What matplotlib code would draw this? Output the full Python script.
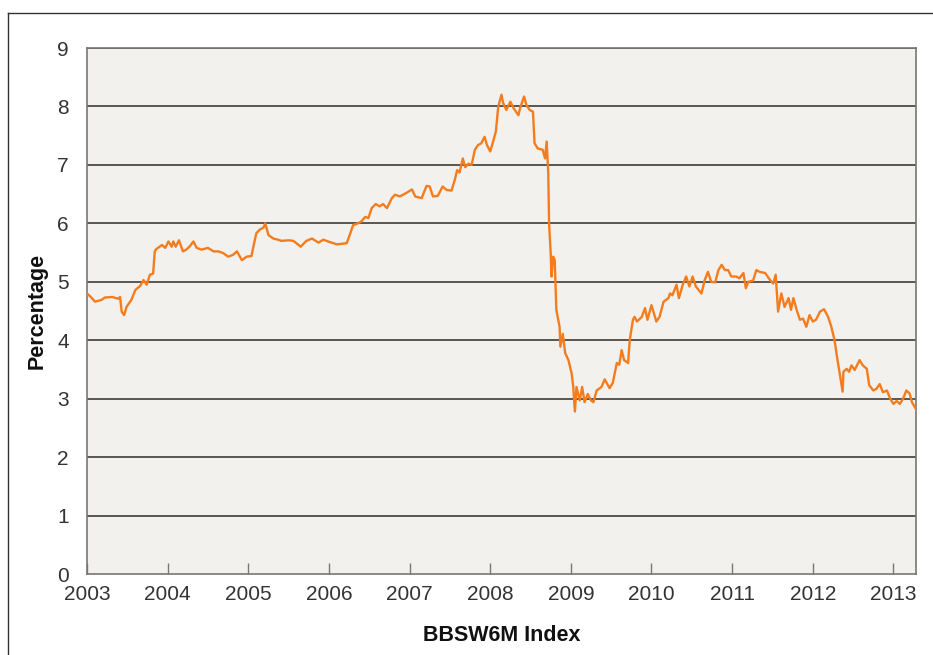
import matplotlib
matplotlib.use("Agg")
import matplotlib.pyplot as plt
from matplotlib.lines import Line2D

# BBSW6M rate (decimal year, percent)
dates = [2003.00, 2003.04, 2003.10, 2003.18, 2003.22, 2003.31, 2003.39, 2003.41,
         2003.43, 2003.46, 2003.49, 2003.55, 2003.60, 2003.66, 2003.70, 2003.74,
         2003.78, 2003.82, 2003.84, 2003.86, 2003.93, 2003.97, 2004.01, 2004.05,
         2004.07, 2004.10, 2004.14, 2004.19, 2004.23, 2004.27, 2004.32, 2004.36,
         2004.42, 2004.50, 2004.57, 2004.63, 2004.69, 2004.75, 2004.81, 2004.86,
         2004.92, 2004.98, 2005.04, 2005.06, 2005.10, 2005.14, 2005.19, 2005.21,
         2005.25, 2005.31, 2005.37, 2005.41, 2005.50, 2005.56, 2005.65, 2005.72,
         2005.79, 2005.87, 2005.93, 2006.01, 2006.10, 2006.22, 2006.25, 2006.30,
         2006.36, 2006.40, 2006.45, 2006.49, 2006.53, 2006.58, 2006.63, 2006.67,
         2006.72, 2006.78, 2006.82, 2006.88, 2006.96, 2007.03, 2007.07, 2007.15,
         2007.21, 2007.25, 2007.29, 2007.35, 2007.41, 2007.46, 2007.52, 2007.56,
         2007.59, 2007.62, 2007.66, 2007.69, 2007.73, 2007.77, 2007.81, 2007.85,
         2007.89, 2007.93, 2007.96, 2008.00, 2008.03, 2008.07, 2008.10, 2008.14,
         2008.16, 2008.20, 2008.25, 2008.29, 2008.35, 2008.37, 2008.42, 2008.45,
         2008.49, 2008.53, 2008.55, 2008.59, 2008.65, 2008.68, 2008.70, 2008.72,
         2008.73, 2008.75, 2008.76, 2008.78, 2008.80, 2008.82, 2008.86, 2008.87,
         2008.90, 2008.93, 2008.97, 2009.01, 2009.03, 2009.05, 2009.07, 2009.11,
         2009.14, 2009.17, 2009.21, 2009.25, 2009.28, 2009.32, 2009.38, 2009.42,
         2009.48, 2009.52, 2009.57, 2009.60, 2009.63, 2009.66, 2009.71, 2009.73,
         2009.77, 2009.79, 2009.82, 2009.88, 2009.92, 2009.95, 2010.00, 2010.03,
         2010.06, 2010.10, 2010.15, 2010.21, 2010.23, 2010.26, 2010.31, 2010.34,
         2010.39, 2010.43, 2010.47, 2010.51, 2010.55, 2010.62, 2010.66, 2010.70,
         2010.74, 2010.79, 2010.83, 2010.87, 2010.91, 2010.95, 2010.99, 2011.05,
         2011.09, 2011.14, 2011.17, 2011.20, 2011.26, 2011.30, 2011.34, 2011.41,
         2011.47, 2011.51, 2011.54, 2011.57, 2011.61, 2011.65, 2011.70, 2011.73,
         2011.76, 2011.80, 2011.84, 2011.88, 2011.92, 2011.96, 2012.00, 2012.04,
         2012.09, 2012.14, 2012.19, 2012.23, 2012.27, 2012.30, 2012.34, 2012.37,
         2012.38, 2012.42, 2012.45, 2012.48, 2012.52, 2012.58, 2012.62, 2012.67,
         2012.70, 2012.75, 2012.79, 2012.83, 2012.87, 2012.92, 2012.96, 2013.00,
         2013.04, 2013.08, 2013.12, 2013.16, 2013.20, 2013.23, 2013.28]
rates = [4.80, 4.75, 4.66, 4.69, 4.73, 4.74, 4.71, 4.74,
         4.49, 4.43, 4.57, 4.69, 4.86, 4.93, 5.03, 4.95,
         5.12, 5.14, 5.52, 5.56, 5.63, 5.58, 5.69, 5.60,
         5.69, 5.60, 5.71, 5.52, 5.55, 5.60, 5.69, 5.58,
         5.55, 5.58, 5.52, 5.52, 5.49, 5.43, 5.46, 5.52,
         5.37, 5.43, 5.44, 5.58, 5.83, 5.89, 5.93, 6.00,
         5.80, 5.74, 5.72, 5.70, 5.71, 5.70, 5.60, 5.70,
         5.74, 5.67, 5.72, 5.68, 5.64, 5.66, 5.77, 5.97,
         6.00, 6.03, 6.11, 6.09, 6.26, 6.33, 6.29, 6.33,
         6.26, 6.43, 6.49, 6.46, 6.52, 6.58, 6.46, 6.43,
         6.64, 6.63, 6.46, 6.47, 6.63, 6.57, 6.56, 6.74,
         6.91, 6.87, 7.11, 6.96, 7.02, 7.00, 7.26, 7.34,
         7.37, 7.48, 7.34, 7.23, 7.37, 7.57, 8.00, 8.20,
         8.06, 7.94, 8.08, 7.97, 7.85, 7.97, 8.17, 8.02,
         7.94, 7.91, 7.37, 7.28, 7.26, 7.11, 7.40, 6.86,
         6.00, 5.49, 5.09, 5.43, 5.37, 4.52, 4.23, 3.89,
         4.11, 3.78, 3.66, 3.43, 3.20, 2.78, 3.20, 2.97,
         3.20, 2.94, 3.08, 2.97, 2.94, 3.14, 3.20, 3.33,
         3.18, 3.27, 3.61, 3.58, 3.83, 3.66, 3.61, 4.00,
         4.35, 4.40, 4.32, 4.40, 4.55, 4.35, 4.60, 4.46,
         4.32, 4.40, 4.66, 4.72, 4.80, 4.77, 4.95, 4.72,
         4.96, 5.09, 4.92, 5.09, 4.92, 4.80, 5.03, 5.17,
         5.00, 4.99, 5.20, 5.29, 5.20, 5.20, 5.09, 5.09,
         5.06, 5.15, 4.89, 5.00, 5.02, 5.20, 5.17, 5.15,
         5.03, 4.97, 5.12, 4.49, 4.80, 4.57, 4.72, 4.52,
         4.72, 4.52, 4.35, 4.37, 4.23, 4.43, 4.32, 4.35,
         4.49, 4.53, 4.40, 4.23, 4.00, 3.72, 3.38, 3.12,
         3.46, 3.51, 3.46, 3.57, 3.49, 3.66, 3.57, 3.51,
         3.23, 3.14, 3.17, 3.25, 3.11, 3.14, 3.00, 2.91,
         2.96, 2.91, 3.00, 3.14, 3.09, 2.94, 2.82]
years = list(range(2003, 2014))
yticks = list(range(0, 10))

plt.rcParams['font.family'] = ['Liberation Sans', 'DejaVu Sans']

fig = plt.figure(figsize=(9.33, 6.55), dpi=100)
ax = fig.add_axes([87/933, 1-574/655, (916-87)/933, (574-48)/655])
ax.set_facecolor('#f2f1ee')

for v in yticks[1:]:
    ax.axhline(v, color='#4a4a4a', lw=1.3, zorder=1)

ax.plot(dates, rates, color='#f47c1c', lw=1.7, zorder=3)

ax.set_xlim(2003, 2013.28)
ax.set_ylim(0, 9)
ax.set_xticks(years)
ax.set_xticklabels([str(y) for y in years])
ax.set_yticks(yticks)
ax.tick_params(axis='x', direction='in', length=8, width=1, color='#777777',
               labelsize=15, labelcolor='#333333', pad=8)
ax.tick_params(axis='y', length=0, labelsize=15, labelcolor='#333333', pad=13)
for s in ax.spines.values():
    s.set_color('#777777')
    s.set_linewidth(1.2)

ax.set_ylabel('Percentage', fontsize=15.5, fontweight='bold', color='#111111')
ax.yaxis.set_label_coords(-0.048, 0.5)
ax.set_xlabel('BBSW6M Index', fontsize=15.5, fontweight='bold', color='#111111')
ax.xaxis.set_label_coords(0.5, -0.097)

# outer frame (left and top edges only)
fig.add_artist(Line2D([8/933, 8/933], [0, 1-13/655], color='#333333', lw=1))
fig.add_artist(Line2D([8/933, 1], [1-13/655, 1-13/655], color='#333333', lw=1))

fig.savefig('out.png', dpi=100)
